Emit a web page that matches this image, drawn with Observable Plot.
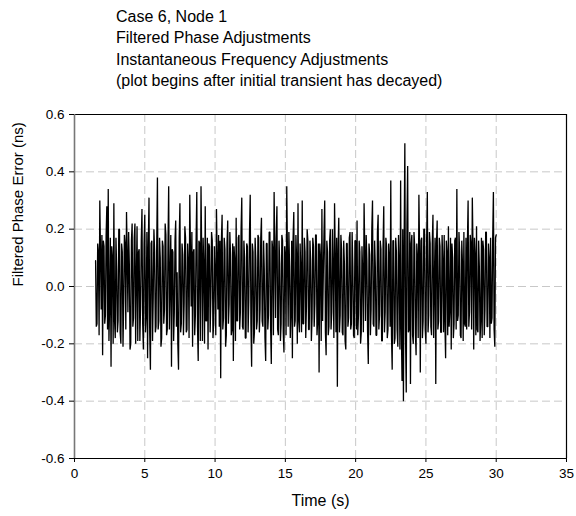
<!DOCTYPE html>
<html>
<head>
<meta charset="utf-8">
<script src="https://cdn.jsdelivr.net/npm/d3@7"></script>
<script src="https://cdn.jsdelivr.net/npm/@observablehq/plot@0.6"></script>
<style>
  html, body { margin: 0; padding: 0; background: #fff; }
  #wrap { width: 576px; height: 516px; position: relative; font-family: "Liberation Sans", Arial, sans-serif; }
  #title { position: absolute; left: 116px; top: 6px; font-size: 16px; line-height: 21.3px; color: #000; white-space: nowrap; }
  #chart { position: absolute; left: 0; top: 100px; }
</style>
</head>
<body>
<div id="wrap">
  <div id="title"></div>
  <div id="chart"></div>
</div>
<script>
const titleLines = [
  "Case 6, Node 1",
  "Filtered Phase Adjustments",
  "Instantaneous Frequency Adjustments",
  "(plot begins after initial transient has decayed)"
];
const xLabel = "Time (s)";
const yLabel = "Filtered Phase Error (ns)";
const xTicks = [0, 5, 10, 15, 20, 25, 30, 35];
const yTicks = [-0.6, -0.4, -0.2, 0.0, 0.2, 0.4, 0.6];

// sampling start and step of the series (s)
const tStart = 1.5;
const tStep = 0.05;

// Filtered phase error (ns), one value per sample (one row per second)
const phaseError = [
  .09, -.14, -.13, .15, .12, -.17, .30, .12, -.08, .18,
  -.24, .16, .14, -.13, -.10, .18, .28, -.15, .34, -.19, -.06, .17, -.28, .14, .10, -.20, .29, -.12, -.18, .17,
  .06, -.16, -.12, .20, .20, -.16, -.20, .15, .12, -.21, -.05, .18, .15, -.15, .26, .11, -.09, .19, .08, -.22,
  -.20, .16, .22, -.14, -.11, .17, .22, -.20, .03, .21, -.19, .12, .13, -.19, -.07, .16, .27, -.13, -.22, .15,
  .25, -.16, -.10, .19, -.25, .14, .31, -.16, -.29, .15, .16, -.19, -.04, .20, .12, -.16, -.14, .15, .38, -.15,
  -.12, .17, .10, -.21, -.18, .16, .14, -.13, -.08, .22, .18, -.17, -.15, .14, .35, -.15, .02, .18, -.28, .13,
  .12, -.19, -.09, .16, .23, -.14, .05, -.20, -.29, .17, .29, -.16, -.13, .15, .11, -.17, -.06, .21, .17, -.16,
  -.15, .15, .08, -.18, .32, .13, -.07, .19, -.21, .12, .13, -.17, -.10, .16, .33, -.14, -.26, .16, .15, -.19,
  .35, .11, -.19, .17, .07, -.20, .28, -.12, -.12, .17, -.22, .15, .14, -.16, -.04, .19, .16, -.18, -.13, .14,
  .05, -.17, .27, .10, -.08, .18, -.14, .16, -.32, .16, .25, -.15, -.11, .17, .13, -.21, -.17, .15, .23, -.13,
  -.06, .19, .11, -.17, -.15, .15, -.26, .14, .09, -.19, .24, -.12, -.12, .17, .18, -.15, -.09, .20, .31, -.14,
  -.15, .16, .10, -.18, -.18, .15, .14, -.16, -.05, .19, .32, -.13, -.28, .15, .12, -.20, -.16, .17, .09, -.15,
  -.12, .18, .17, -.16, -.08, .17, .24, -.12, -.14, .16, .06, -.18, -.26, .15, .15, -.15, -.10, .19, .19, -.14,
  -.27, .16, .13, -.17, .33, .12, -.11, .17, .28, -.15, -.17, .16, .08, -.19, -.13, .18, .16, -.16, -.23, .14,
  .11, -.17, .35, .11, -.14, .19, .07, -.18, -.09, .16, -.25, .17, .26, -.14, -.12, .18, .10, -.20, .29, -.12,
  -.16, .15, .05, -.16, .30, -.13, -.13, .17, .12, -.18, -.07, .20, .16, -.15, -.15, .16, .09, -.19, -.11, .17,
  .14, -.14, -.06, .18, .18, -.17, -.12, .15, -.30, .15, .10, -.19, .27, -.12, .04, .19, .30, -.16, -.24, .16,
  .12, -.17, -.14, .16, .20, -.15, -.09, .20, .06, -.18, .29, .11, -.16, .17, -.35, .13, .24, -.16, -.10, .18,
  .13, -.16, -.17, .16, .08, -.19, -.22, .15, .15, -.14, -.11, .17, .19, -.15, -.13, .19, .07, -.17, -.18, .16,
  .16, -.15, .23, -.17, -.10, .16, .12, -.20, -.16, .14, .05, -.16, .29, .12, -.12, .18, .09, -.16, -.27, .15,
  .11, -.17, -.08, .20, .30, -.13, -.14, .16, .07, -.17, -.17, .19, .25, -.15, -.10, .16, .13, -.19, -.19, .14,
  .28, -.16, -.09, .17, .14, -.18, -.15, .15, .10, -.14, .37, -.17, -.29, .16, .16, -.20, -.18, .17, .12, -.15,
  -.21, .18, .08, -.22, .37, -.15, -.33, .20, -.40, .16, .50, -.18, -.37, .22, .42, -.16, -.15, .19, -.34, .15,
  .18, -.17, -.20, .19, .14, -.16, -.24, .15, .10, -.18, .32, .12, -.30, .16, .17, -.18, -.12, .20, .20, -.15,
  -.20, .16, .33, -.16, -.10, .19, .15, -.14, -.17, .15, .25, -.18, .02, .17, -.34, .15, .23, -.15, -.12, .17,
  .14, -.16, -.16, .18, .09, -.16, .18, -.13, -.25, .16, .12, -.17, .21, -.14, -.08, .17, -.22, .15, .10, -.18,
  -.13, .16, .17, -.15, .34, -.12, -.10, .19, .12, -.17, -.18, .16, .08, -.19, .19, -.13, -.14, .17, -.15, .15,
  .30, -.14, -.09, .18, .15, -.15, .31, .13, -.22, .17, .11, -.17, .21, -.15, -.16, .16, .07, -.19, -.12, .17,
  -.18, .16, .13, -.17, -.08, .19, .19, -.14, -.14, .15, .10, -.18, .17, -.13, -.11, .17, .33, -.15, -.21, .17,
  .18
];

document.getElementById("title").innerHTML = titleLines.map(s => `<div>${s}</div>`).join("");

const data = phaseError.map((v, i) => ({t: tStart + i * tStep, v}));
const gridX = xTicks.slice(1, -1);
const gridY = yTicks.slice(1, -1);

const chart = Plot.plot({
  width: 576,
  height: 416,
  marginTop: 14,
  marginBottom: 58,
  marginLeft: 74,
  marginRight: 10,
  style: {fontFamily: "Liberation Sans, Arial, sans-serif", fontSize: "13.5px", color: "#000", background: "#fff"},
  x: {domain: [0, 35]},
  y: {domain: [-0.6, 0.6]},
  marks: [
    Plot.ruleX(gridX, {stroke: "#c8c8c8", strokeDasharray: "8,4", strokeWidth: 1}),
    Plot.ruleY(gridY, {stroke: "#c8c8c8", strokeDasharray: "8,4", strokeWidth: 1}),
    Plot.line(data, {x: "t", y: "v", stroke: "#000", strokeWidth: 1.3, strokeLinejoin: "miter"}),
    Plot.ruleY([0.6], {stroke: "#000", strokeWidth: 1.2}),
    Plot.ruleX([35], {stroke: "#000", strokeWidth: 1.2}),
    Plot.ruleY([-0.6], {stroke: "#000", strokeWidth: 1.2}),
    Plot.ruleX([0], {stroke: "#777", strokeWidth: 1.6}),
    Plot.axisX({ticks: xTicks, tickSize: 4, tickPadding: 6, label: null, stroke: "#000", tickFormat: d => String(d)}),
    Plot.axisY({ticks: yTicks, tickSize: 5, tickPadding: 5, label: null, stroke: "#000", tickFormat: d => d.toFixed(1)}),
    Plot.text([xLabel], {frameAnchor: "bottom", dy: 47, fontSize: 16, text: d => d}),
    Plot.text([yLabel], {frameAnchor: "left", dx: -56, rotate: -90, fontSize: 15, text: d => d})
  ]
});
document.getElementById("chart").appendChild(chart);
</script>
</body>
</html>
